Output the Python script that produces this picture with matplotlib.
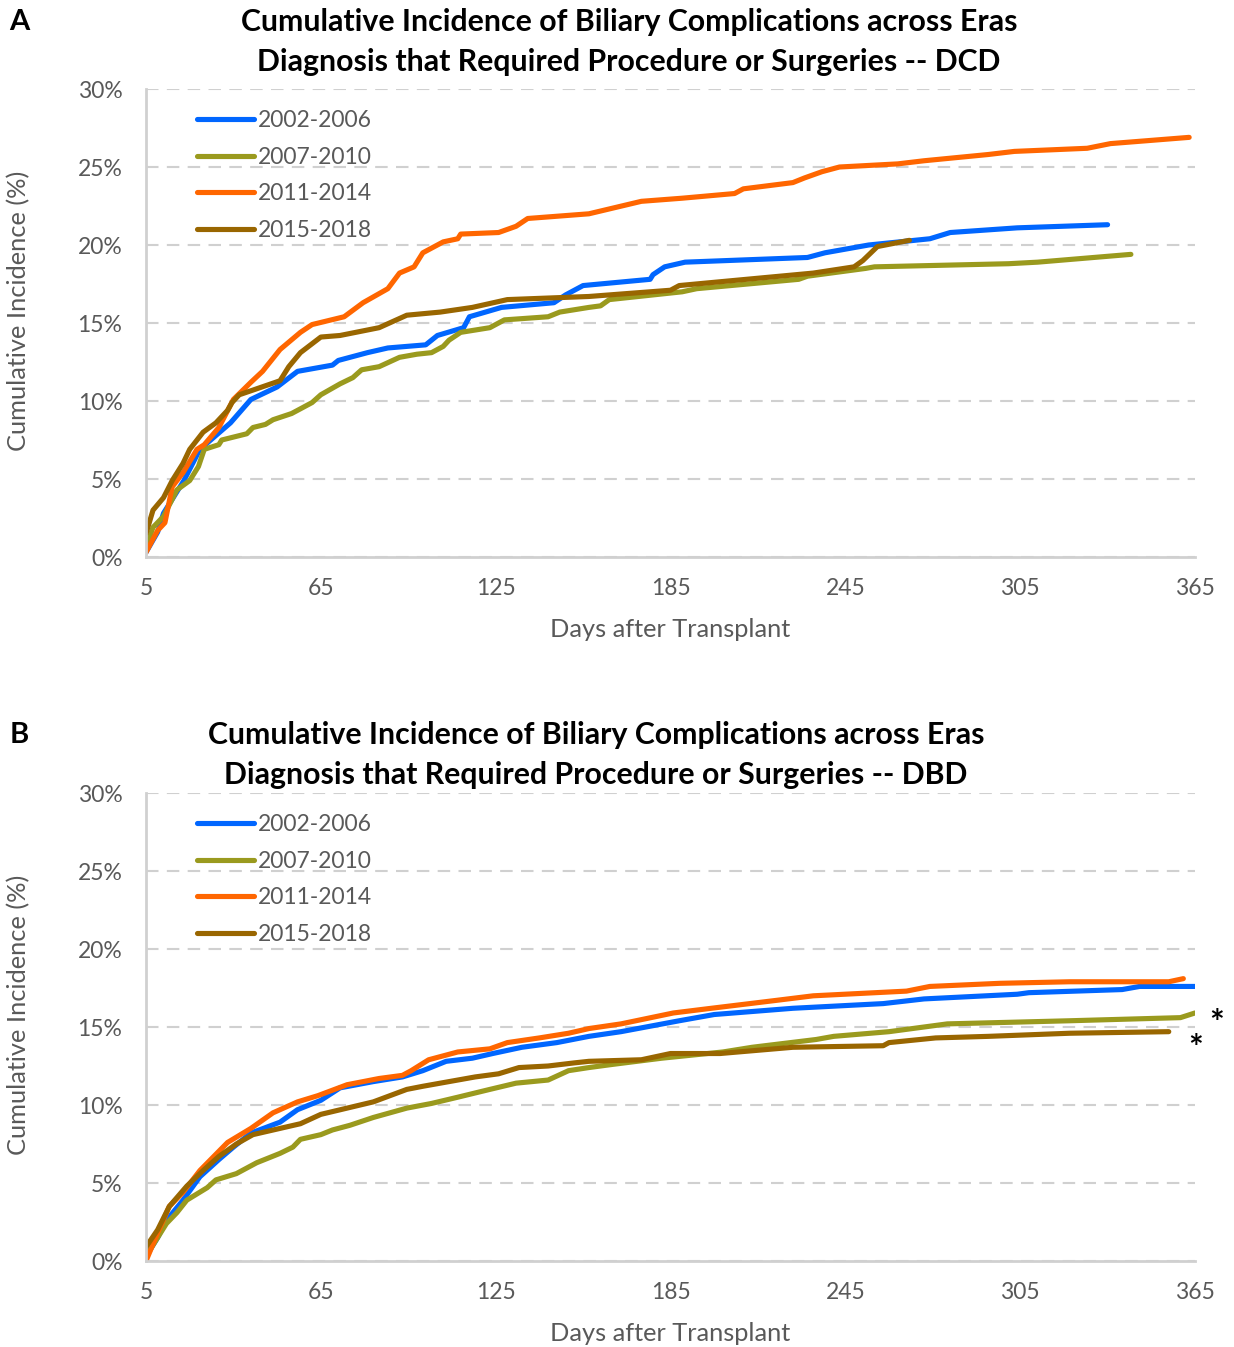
#!/usr/bin/env python
# Cumulative incidence of biliary complications across eras, DCD (A) and DBD (B)
import matplotlib
matplotlib.use("Agg")
import matplotlib.pyplot as plt

plt.rcParams['font.family'] = ['Lato', 'DejaVu Sans']

eras = ["2002-2006", "2007-2010", "2011-2014", "2015-2018"]
colors = ["#0066ff", "#9a9a1e", "#ff6600", "#996600"]

# ---- panel A (DCD): days after transplant, cumulative incidence (%)
a_blue_d = [5, 9, 11, 18, 23.5, 34, 41, 50, 57, 69, 71, 81, 88, 101, 105, 114, 116, 127, 145, 149,
            155, 178, 179, 183, 190, 232, 238, 253, 274, 281, 304, 335]
a_blue_v = [0.3, 1.6, 2.8, 4.9, 6.9, 8.6, 10.1, 10.9, 11.9, 12.3, 12.6, 13.1, 13.4, 13.6, 14.2, 14.7,
            15.4, 16.0, 16.3, 16.8, 17.4, 17.8, 18.1, 18.6, 18.9, 19.2, 19.5, 20.0, 20.4, 20.8, 21.1, 21.3]
a_green_d = [5, 7.4, 11, 15.6, 20, 23, 25, 30, 31, 39.6, 41.7, 46, 48.6, 55, 62, 65, 71.6, 76, 79, 85,
             92, 98, 103, 107, 109, 113, 123, 128, 143, 147, 157, 161, 164, 189, 194, 229, 232, 252,
             255, 301, 311, 343]
a_green_v = [0.6, 1.9, 2.6, 4.3, 4.9, 5.8, 6.9, 7.2, 7.5, 7.9, 8.3, 8.5, 8.8, 9.2, 9.9, 10.4, 11.1,
             11.5, 12.0, 12.2, 12.8, 13.0, 13.1, 13.5, 13.9, 14.4, 14.7, 15.2, 15.4, 15.7, 16.0, 16.1,
             16.5, 17.0, 17.2, 17.8, 18.0, 18.5, 18.6, 18.8, 18.9, 19.4]
a_orange_d = [5, 9, 11.5, 14, 17.7, 22.5, 25, 30, 35, 41, 45, 51, 58, 62, 73, 79.5, 88, 92, 97, 100,
              107, 112, 113, 126, 132, 136, 157, 175, 189, 207, 210, 227, 231, 237, 243, 263, 272,
              294, 303, 328, 336, 363]
a_orange_v = [0.3, 1.7, 2.2, 4.5, 5.4, 6.9, 7.2, 8.3, 10.1, 11.2, 11.9, 13.3, 14.4, 14.9, 15.4, 16.3,
              17.2, 18.2, 18.6, 19.5, 20.2, 20.4, 20.7, 20.8, 21.2, 21.7, 22.0, 22.8, 23.0, 23.3, 23.6,
              24.0, 24.3, 24.7, 25.0, 25.2, 25.4, 25.8, 26.0, 26.2, 26.5, 26.9]
a_brown_d = [5, 7.4, 11, 14, 17.7, 20, 24.6, 29, 33, 34.5, 37, 41.7, 51, 54, 58, 65, 71.6, 85, 94.5,
             106, 117, 129, 157, 185, 188, 234, 248, 251, 256, 267]
a_brown_v = [1.5, 3.0, 3.8, 4.9, 6.0, 6.9, 8.0, 8.6, 9.4, 9.9, 10.4, 10.7, 11.3, 12.2, 13.1, 14.1,
             14.2, 14.7, 15.5, 15.7, 16.0, 16.5, 16.7, 17.1, 17.4, 18.2, 18.6, 19.0, 19.9, 20.3]

# ---- panel B (DBD)
b_blue_d = [5, 9, 12, 17.7, 23.5, 30, 35, 41, 51, 57, 65, 71.6, 83, 93, 100, 108, 117, 124, 134, 146,
            157, 168, 188, 200, 227, 258, 272, 304, 308, 340, 346, 365]
b_blue_v = [0.3, 1.5, 2.6, 3.9, 5.4, 6.5, 7.3, 8.2, 8.9, 9.7, 10.3, 11.1, 11.5, 11.8, 12.2, 12.8,
            13.0, 13.3, 13.7, 14.0, 14.4, 14.7, 15.4, 15.8, 16.2, 16.5, 16.8, 17.1, 17.2, 17.4, 17.6,
            17.6]
b_green_d = [5, 9, 12, 15.6, 19, 26, 29, 36, 43, 51, 55.4, 58, 65, 69, 75, 83, 94.5, 103, 112, 123,
             132, 143, 150, 157, 165, 182, 203, 213, 235, 241, 260, 272, 280, 301, 322, 360, 365]
b_green_v = [0.3, 1.5, 2.4, 3.1, 3.9, 4.7, 5.2, 5.6, 6.3, 6.9, 7.3, 7.8, 8.1, 8.4, 8.7, 9.2, 9.8,
             10.1, 10.5, 11.0, 11.4, 11.6, 12.2, 12.4, 12.6, 13.0, 13.4, 13.7, 14.2, 14.4, 14.7, 15.0,
             15.2, 15.3, 15.4, 15.6, 15.9]
b_orange_d = [5, 9, 13, 17.7, 23.5, 33, 41, 48.6, 57, 64, 74, 85, 93, 96, 102, 112, 123, 129, 140,
              150, 157, 168, 186, 199, 221, 234, 266, 274, 298, 322, 356, 361]
b_orange_v = [0.0, 1.8, 3.5, 4.4, 5.8, 7.6, 8.5, 9.5, 10.2, 10.6, 11.3, 11.7, 11.9, 12.2, 12.9, 13.4,
              13.6, 14.0, 14.3, 14.6, 14.9, 15.2, 15.9, 16.2, 16.7, 17.0, 17.3, 17.6, 17.8, 17.9, 17.9,
              18.1]
b_brown_d = [5, 9, 13, 19, 24.6, 30, 36, 41.7, 51, 58, 65, 74, 83, 94.5, 100, 109, 118, 126, 133,
             143, 152, 157, 175, 185, 202, 227, 258, 260, 276, 294, 322, 356]
b_brown_v = [0.9, 2.0, 3.5, 4.8, 5.8, 6.7, 7.5, 8.1, 8.5, 8.8, 9.4, 9.8, 10.2, 11.0, 11.2, 11.5,
             11.8, 12.0, 12.4, 12.5, 12.7, 12.8, 12.9, 13.3, 13.3, 13.7, 13.8, 14.0, 14.3, 14.4, 14.6,
             14.7]

x_ticks = [5, 65, 125, 185, 245, 305, 365]
y_ticks = [0, 5, 10, 15, 20, 25, 30]

title1 = "Cumulative Incidence of Biliary Complications across Eras"
title2_a = "Diagnosis that Required Procedure or Surgeries -- DCD"
title2_b = "Diagnosis that Required Procedure or Surgeries -- DBD"

W, H = 1234, 1347
fig = plt.figure(figsize=(W / 100, H / 100), dpi=100)
gray = "#595959"
grid_c = "#d0d0d0"


def panel(rect, series):
    ax = fig.add_axes(rect)
    for (d, v), c, lab in zip(series, colors, eras):
        ax.plot(d, v, color=c, lw=3.7, label=lab, solid_capstyle='round', solid_joinstyle='round')
    ax.set_xlim(5, 365)
    ax.set_ylim(0, 30)
    ax.set_xticks(x_ticks)
    ax.set_yticks(y_ticks)
    ax.set_yticklabels(["%d%%" % t for t in y_ticks])
    ax.tick_params(length=0, labelsize=16.5, colors=gray)
    ax.tick_params(axis='y', pad=17)
    ax.tick_params(axis='x', pad=15)
    for t in y_ticks:
        ax.axhline(t, color=grid_c, lw=1.5, dashes=(6, 4), zorder=0)
    for s in ['top', 'right']:
        ax.spines[s].set_visible(False)
    for s in ['left', 'bottom']:
        ax.spines[s].set_color(grid_c)
        ax.spines[s].set_linewidth(2)
    ax.set_xlabel("Days after Transplant", fontsize=18.3, color=gray, labelpad=14)
    ax.set_ylabel("Cumulative Incidence (%)", fontsize=18.3, color=gray)
    ax.yaxis.set_label_coords(-0.1106, 0.525)
    ax.legend(loc='upper left', bbox_to_anchor=(0.049, 0.955), frameon=False, fontsize=16.5,
              labelcolor=gray, handlelength=2.45, handletextpad=0.2, labelspacing=0.68,
              borderpad=0, borderaxespad=0)
    return ax


def rect(left, top, right, bottom):
    return [left / W, 1 - bottom / H, (right - left) / W, (bottom - top) / H]


ax_a = panel(rect(146, 89, 1195, 557),
             [(a_blue_d, a_blue_v), (a_green_d, a_green_v), (a_orange_d, a_orange_v),
              (a_brown_d, a_brown_v)])
ax_b = panel(rect(146, 793, 1195, 1261),
             [(b_blue_d, b_blue_v), (b_green_d, b_green_v), (b_orange_d, b_orange_v),
              (b_brown_d, b_brown_v)])

# titles and panel letters
tkw = dict(ha='center', va='center', fontsize=21.8, fontweight='bold')
fig.text(629 / W, 1 - 22 / H, title1, **tkw)
fig.text(629 / W, 1 - 62 / H, title2_a, **tkw)
fig.text(596 / W, 1 - 735 / H, title1, **tkw)
fig.text(596 / W, 1 - 775 / H, title2_b, **tkw)
fig.text(19 / W, 1 - 22 / H, "A", ha='center', va='center', fontsize=21, fontweight='bold')
fig.text(19 / W, 1 - 735 / H, "B", ha='center', va='center', fontsize=21, fontweight='bold')

# significance markers at end of the DBD curves
ax_b.text(1.021, 15.2, "*", transform=ax_b.get_yaxis_transform(), fontsize=25, fontweight='bold',
          ha='center', va='center', clip_on=False)
ax_b.text(1.001, 13.6, "*", transform=ax_b.get_yaxis_transform(), fontsize=25, fontweight='bold',
          ha='center', va='center', clip_on=False)

fig.savefig("out.png", dpi=100)
